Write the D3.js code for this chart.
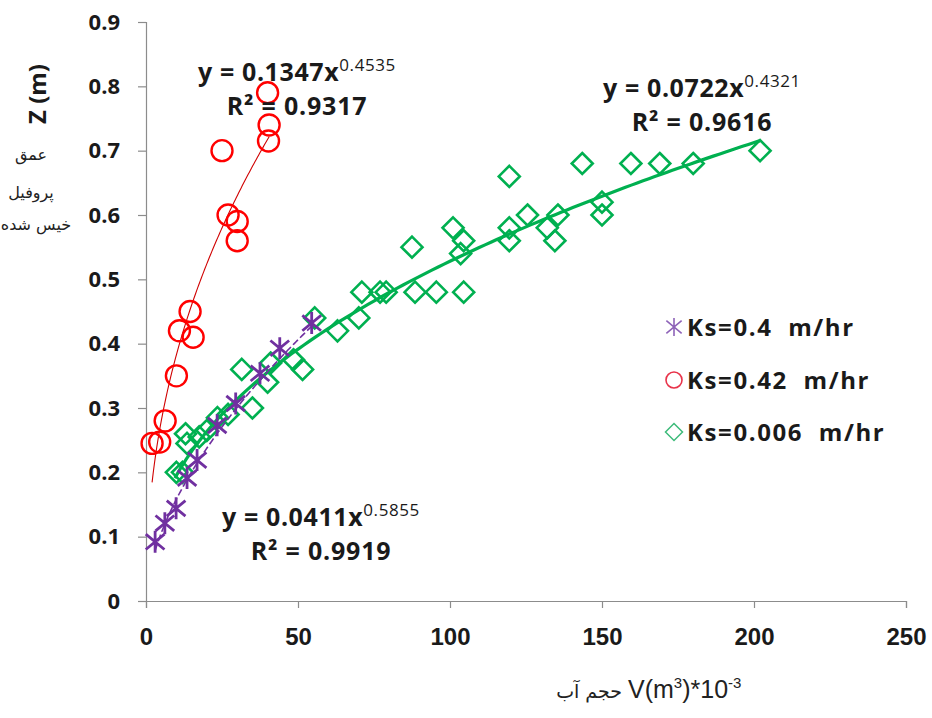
<!DOCTYPE html>
<html>
<head>
<meta charset="utf-8">
<script src="https://cdn.jsdelivr.net/npm/d3@7"></script>
<style>
  body { margin: 0; background: #fff; }
  svg { display: block; }
  .lbl { font-family: "Open Sans", "Noto Sans", sans-serif; font-weight: bold; fill: #1a1a1a; white-space: pre; }
</style>
</head>
<body>
<svg id="chart" width="932" height="718"></svg>
<script>
// Ks=0.4 m/hr (stars)
var starX = [3, 6.2, 9.9, 13.5, 16.8, 23.4, 29.5, 37.5, 44, 54.5];
var starY = [0.092, 0.121, 0.144, 0.191, 0.219, 0.273, 0.307, 0.354, 0.393, 0.432];
// Ks=0.42 m/hr (circles)
var circX = [2, 4.5, 6.3, 10, 11, 14.5, 15.5, 25, 27, 30, 30, 40, 40.5, 40.3];
var circY = [0.245, 0.247, 0.28, 0.35, 0.42, 0.45, 0.41, 0.70, 0.60, 0.59, 0.56, 0.79, 0.74, 0.715];
// Ks=0.006 m/hr (diamonds)
var diaX = [10, 12, 13, 13.5, 17.5, 20, 23.5, 27, 31.5, 35, 40, 41, 48.5, 51.5, 55.5, 63, 70, 71, 77, 79,
            87.5, 88.5, 95.5, 101, 103.5, 104.5, 104.5, 119.5, 119.5, 119.5, 125.5, 132, 134.5, 135.5,
            143.5, 150, 150, 159.5, 169, 180, 202];
var diaY = [0.20, 0.20, 0.26, 0.245, 0.255, 0.265, 0.285, 0.29, 0.36, 0.30, 0.34, 0.37, 0.375, 0.36, 0.44, 0.42, 0.44, 0.48, 0.48, 0.48,
            0.55, 0.48, 0.48, 0.58, 0.54, 0.56, 0.48, 0.66, 0.58, 0.56, 0.60, 0.58, 0.56, 0.60,
            0.68, 0.62, 0.60, 0.68, 0.68, 0.68, 0.70];

// power trendlines y = a*x^b : [a, b, xmin, xmax]
var fitStar = [0.0411, 0.5855, 3, 55];
var fitCirc = [0.1347, 0.4535, 2, 40.5];
var fitDia  = [0.0722, 0.4321, 9.5, 202];

var xTicks = [0, 50, 100, 150, 200, 250];
var yTicks = [0, 0.1, 0.2, 0.3, 0.4, 0.5, 0.6, 0.7, 0.8, 0.9];
var legendNames = ["Ks=0.4  m/hr", "Ks=0.42  m/hr", "Ks=0.006  m/hr"];

var purple = "#7030a0", red = "#ff0000", green = "#00b050";

var svg = d3.select("#chart");
var x = d3.scaleLinear().domain([0, 250]).range([146, 906]);
var y = d3.scaleLinear().domain([0, 0.9]).range([601, 22]);

/*оси*/
var yAxis = svg.append("g").attr("transform", "translate(146,0)")
    .call(d3.axisLeft(y).tickValues(yTicks).tickSize(8).tickPadding(18)
        .tickFormat(d => d === 0 ? "0" : d.toFixed(1)));
yAxis.selectAll("text").attr("class", "lbl").style("font-size", "22px");

var xAxis = svg.append("g").attr("transform", "translate(0,601)")
    .call(d3.axisBottom(x).tickValues(xTicks).tickSize(7).tickPadding(20));
xAxis.selectAll("text").style("font-family", "'Liberation Sans Narrow', 'Liberation Sans', sans-serif")
    .style("font-size", "24px").style("font-weight", "bold").attr("fill", "#1a1a1a");

svg.selectAll(".domain, .tick line").attr("stroke", "#8c8c8c").attr("stroke-width", 1.2);

/*линии тренда*/
function fitLine(f) {
    var xs = d3.range(0, 101).map(i => f[2] + (f[3] - f[2]) * i / 100);
    return d3.line().x(d => x(d)).y(d => y(f[0] * Math.pow(d, f[1])))(xs);
}
svg.append("path").attr("d", fitLine(fitDia)).attr("fill", "none")
    .attr("stroke", green).attr("stroke-width", 3.2);
svg.append("path").attr("d", fitLine(fitCirc)).attr("fill", "none")
    .attr("stroke", "#d00000").attr("stroke-width", 1.1);

/*маркеры*/
function diamond(g, cx, cy, s, col, w) {
    g.append("path").attr("d", `M${cx},${cy - s}L${cx + s},${cy}L${cx},${cy + s}L${cx - s},${cy}Z`)
        .attr("fill", "none").attr("stroke", col).attr("stroke-width", w);
}
function star(g, cx, cy, s, col, w) {
    g.append("path").attr("d", `M${cx},${cy - s}L${cx},${cy + s}M${cx - s * 0.85},${cy - s * 0.7}L${cx + s * 0.85},${cy + s * 0.7}M${cx - s * 0.85},${cy + s * 0.7}L${cx + s * 0.85},${cy - s * 0.7}`)
        .attr("fill", "none").attr("stroke", col).attr("stroke-width", w);
}

var gDia = svg.append("g");
diaX.forEach((d, i) => diamond(gDia, x(d), y(diaY[i]), 10.5, green, 2.6));

var gStar = svg.append("g");
starX.forEach((d, i) => star(gStar, x(d), y(starY[i]), 11, purple, 2.8));
svg.append("path").attr("d", fitLine(fitStar)).attr("fill", "none")
    .attr("stroke", purple).attr("stroke-width", 1.6).attr("stroke-dasharray", "7,3");

svg.append("g").selectAll("circle").data(circX).join("circle")
    .attr("cx", d => x(d)).attr("cy", (d, i) => y(circY[i])).attr("r", 10.5)
    .attr("fill", "none").attr("stroke", red).attr("stroke-width", 2.4);

/*уравнения*/
function equation(cx, by, f, r2) {
    var t = svg.append("text").attr("class", "lbl").attr("x", cx).attr("y", by)
        .attr("text-anchor", "middle").style("font-size", "25px").style("letter-spacing", "0.6px");
    t.append("tspan").text("y = " + f[0] + "x");
    t.append("tspan").text(f[1]).attr("dy", -10).style("font-size", "17px").style("font-weight", "normal");
    svg.append("text").attr("class", "lbl").attr("x", cx).attr("y", by + 34)
        .attr("text-anchor", "middle").style("font-size", "25px").style("letter-spacing", "0.8px")
        .text("R² = " + r2);
}
equation(297, 81, fitCirc, "0.9317");
equation(702, 97, fitDia, "0.9616");
equation(321, 526, fitStar, "0.9919");

/*легенда*/
var legY = [327, 380, 432];
var gl = svg.append("g");
star(gl, 674, legY[0], 9, "#8e63b8", 1.6);
gl.append("circle").attr("cx", 674).attr("cy", legY[1]).attr("r", 8)
    .attr("fill", "none").attr("stroke", "#e8334a").attr("stroke-width", 1.6);
diamond(gl, 674, legY[2], 8.5, "#3dbb7a", 1.5);
gl.selectAll("text").data(legendNames).join("text").attr("class", "lbl")
    .attr("x", 687).attr("y", (d, i) => legY[i] + 9).style("font-size", "24px")
    .style("letter-spacing", "1.6px").text(d => d);

/*подписи осей*/
svg.append("text").attr("class", "lbl").attr("transform", "translate(46,94) rotate(-90)")
    .attr("text-anchor", "middle").style("font-size", "24px").text("Z (m)");
var fa = "'DejaVu Sans', serif";
[["عمق", 31, 160], ["پروفیل", 31, 198], ["خیس شده", 36, 230]].forEach(d => {
    svg.append("text").attr("x", d[1]).attr("y", d[2]).attr("text-anchor", "middle")
        .style("font-family", fa).style("font-size", "16px").attr("fill", "#222").text(d[0]);
});

svg.append("text").attr("x", 622).attr("y", 698).attr("text-anchor", "end")
    .style("font-family", fa).style("font-size", "19px").attr("fill", "#222").text("حجم آب");
var xt = svg.append("text").attr("x", 628).attr("y", 698)
    .style("font-family", "'Liberation Sans Narrow', 'Liberation Sans', sans-serif")
    .style("font-size", "25px").attr("fill", "#222");
xt.append("tspan").text("V(m");
xt.append("tspan").text("3").attr("dy", -10).style("font-size", "15px");
xt.append("tspan").text(")*10").attr("dy", 10);
xt.append("tspan").text("-3").attr("dy", -10).style("font-size", "15px");
</script>
</body>
</html>
